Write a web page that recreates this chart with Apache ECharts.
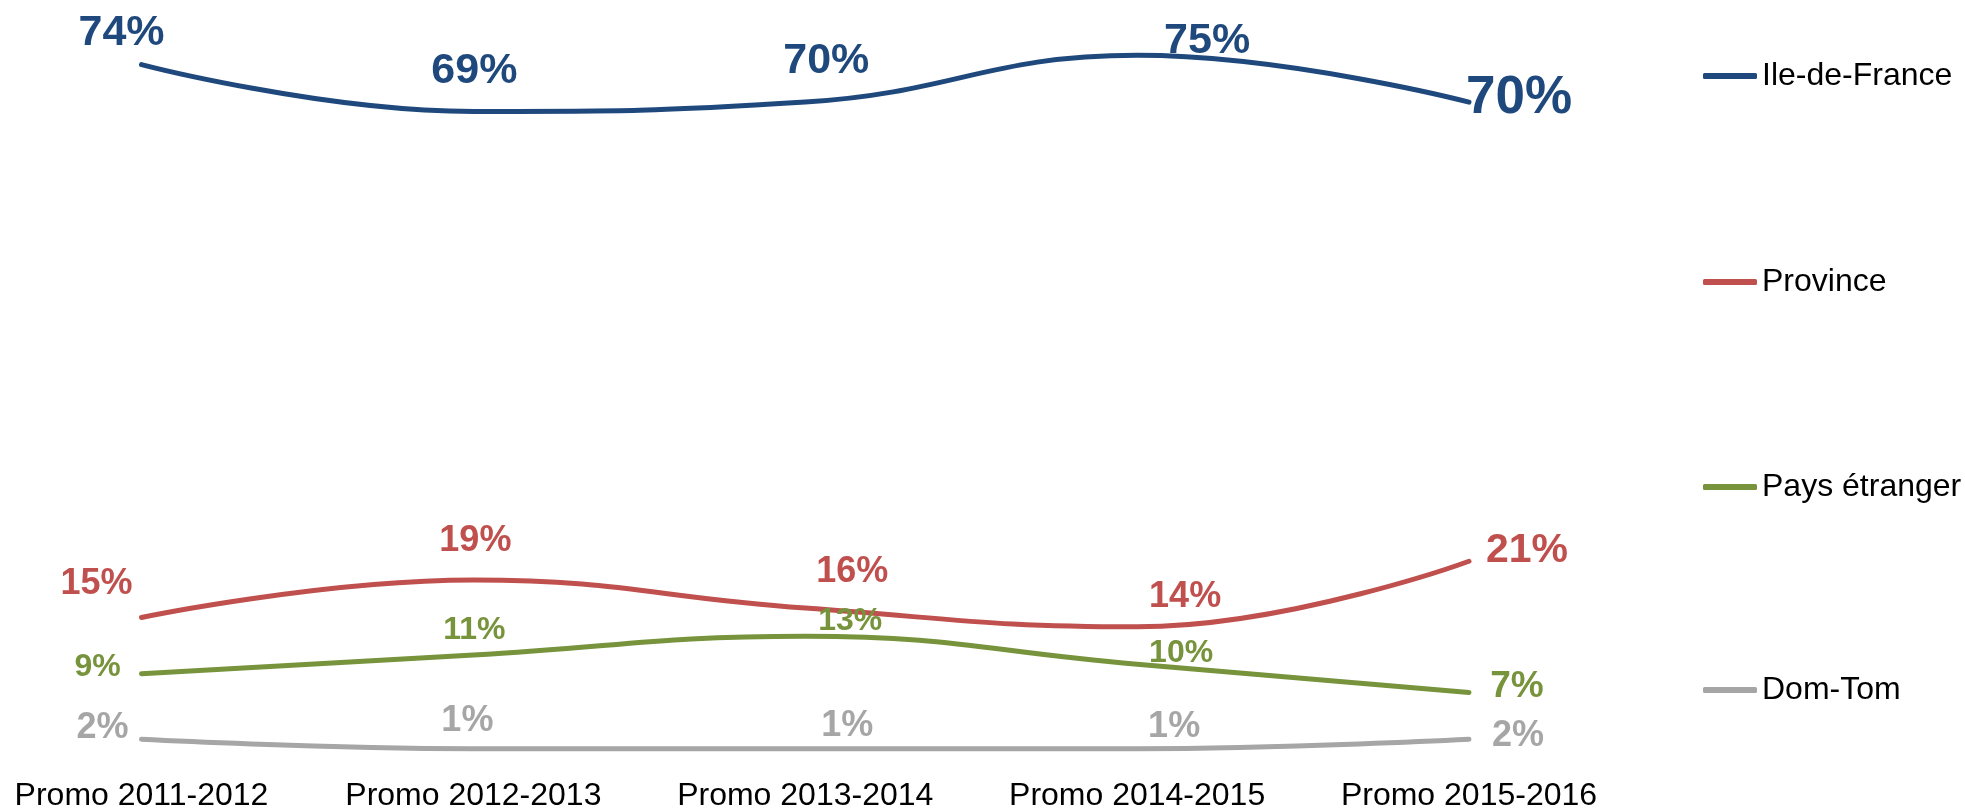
<!DOCTYPE html>
<html>
<head>
<meta charset="utf-8">
<script src="https://cdn.jsdelivr.net/npm/echarts@6/dist/echarts.min.js"></script>
<style>
  html, body { margin: 0; padding: 0; background: #fff; }
  #chart { width: 1965px; height: 811px; }
</style>
</head>
<body>
<div id="chart"></div>
<script>
// data
const promos = ['Promo 2011-2012', 'Promo 2012-2013', 'Promo 2013-2014', 'Promo 2014-2015', 'Promo 2015-2016'];
const ileDeFrance = [74, 69, 70, 75, 70];
const province = [15, 19, 16, 14, 21];
const paysEtranger = [9, 11, 13, 10, 7];
const domTom = [2, 1, 1, 1, 2];

// label placement (px offsets from point, font size) - styling only
const labelStyle = {
  'Ile-de-France': { size: [43, 43, 43, 43, 53], off: [[-20, -31], [1, -40], [21, -41], [70, -14], [50, -4]] },
  'Province': { size: [36, 36, 36, 36, 41], off: [[-45, -33], [2, -39], [47, -36], [48, -30], [58, -11]] },
  'Pays étranger': { size: [32, 32, 32, 32, 37], off: [[-44, -6], [1, -25], [45, -15], [44, -11], [48, -6]] },
  'Dom-Tom': { size: [36, 36, 36, 36, 36], off: [[-39, -11], [-6, -28], [42, -23], [37, -22], [49, -3]] }
};

const colors = {
  'Ile-de-France': '#1F497D',
  'Province': '#C0504D',
  'Pays étranger': '#77933C',
  'Dom-Tom': '#A6A6A6'
};

const font = '"Liberation Sans", Arial, sans-serif';

function makeSeries(name, values) {
  let st = labelStyle[name];
  let data = values.map((v, i) => ({
    value: v,
    label: { fontSize: st.size[i], offset: st.off[i] }
  }));
  return {
    name: name,
    type: 'line',
    smooth: 0.45,
    symbol: 'circle',
    symbolSize: 2,
    color: colors[name],
    lineStyle: { width: 5, color: colors[name], cap: 'round' },
    itemStyle: { color: colors[name] },
    label: {
      show: true,
      position: 'inside',
      align: 'center',
      verticalAlign: 'middle',
      formatter: '{c}%',
      color: colors[name],
      fontWeight: 'bold',
      fontFamily: font
    },
    data: data
  };
}

// one legend per item so the vertical spacing matches
const legendNames = ['Ile-de-France', 'Province', 'Pays étranger', 'Dom-Tom'];
const legendTops = [76, 282, 487, 690];
const legends = legendNames.map((n, i) => ({
  data: [n],
  left: 1703,
  top: legendTops[i] - 16,
  padding: 0,
  orient: 'vertical',
  icon: 'roundRect',
  itemWidth: 54,
  itemHeight: 6,
  itemGap: 0,
  textStyle: { fontSize: 32, lineHeight: 32, color: '#000', fontFamily: font }
}));

let chart = echarts.init(document.getElementById('chart'));
let option = {
  animation: false,
  backgroundColor: '#fff',
  legend: legends,
  grid: {
    left: 141.5,
    right: 496,
    top: 8.4,
    bottom: 53,
    containLabel: false,
    outerBoundsMode: 'none'
  },
  xAxis: {
    type: 'category',
    data: promos,
    boundaryGap: false,
    axisLine: { show: false },
    axisTick: { show: false },
    splitLine: { show: false },
    axisLabel: { fontSize: 32, color: '#000', fontFamily: font, margin: 22, interval: 0 }
  },
  yAxis: {
    type: 'value',
    min: 0,
    max: 80,
    show: false
  },
  series: [
    makeSeries('Ile-de-France', ileDeFrance),
    makeSeries('Province', province),
    makeSeries('Pays étranger', paysEtranger),
    makeSeries('Dom-Tom', domTom)
  ]
};
chart.setOption(option);
</script>
</body>
</html>
